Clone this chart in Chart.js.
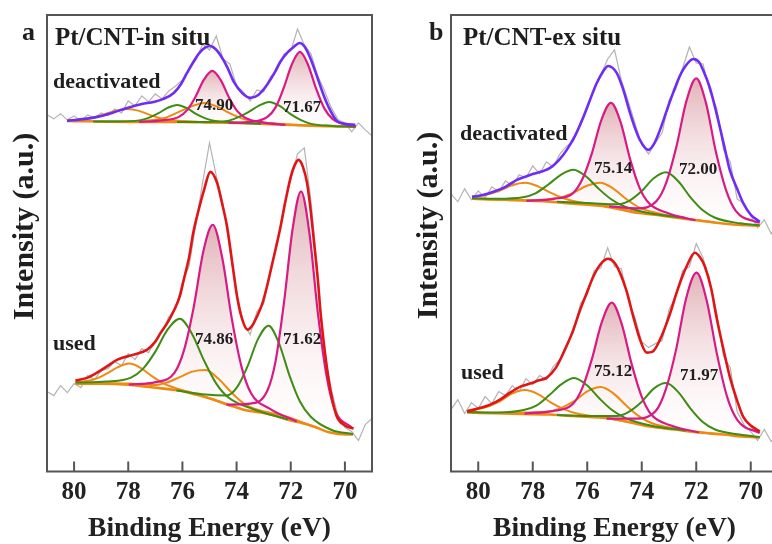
<!DOCTYPE html>
<html>
<head>
<meta charset="utf-8">
<script src="https://cdn.jsdelivr.net/npm/chart.js@4.4.1/dist/chart.umd.min.js"></script>
<style>
  html, body { margin: 0; padding: 0; background: #fff; overflow: hidden; }
  body { width: 772px; height: 544px; position: relative; }
  canvas { position: absolute; top: 0; }
  #panelA { left: 0; }
  #panelB { left: 386px; }
</style>
</head>
<body>
<canvas id="panelA" width="386" height="544"></canvas>
<canvas id="panelB" width="410" height="544"></canvas>
<script>
// ---- data (binding energy in eV, intensity in arbitrary units) ----
const TICKS_EV = [80, 78, 76, 74, 72, 70];
const RAW_EV = [81.0, 80.75, 80.5, 80.25, 80.0, 79.75, 79.5, 79.25, 79.0, 78.75, 78.5, 78.25, 78.0,
  77.75, 77.5, 77.25, 77.0, 76.75, 76.5, 76.25, 76.0, 75.75, 75.5, 75.25, 75.0, 74.75, 74.5, 74.25,
  74.0, 73.75, 73.5, 73.25, 73.0, 72.75, 72.5, 72.25, 72.0, 71.75, 71.5, 71.25, 71.0, 70.75, 70.5,
  70.25, 70.0, 69.75, 69.5, 69.25, 69.0];

const PANEL_LETTERS = ['a', 'b'];
const SAMPLE_TITLES = ['Pt/CNT-in situ', 'Pt/CNT-ex situ'];
const STATE_LABELS = ['deactivated', 'used'];
const A_PEAK_LABELS = ['74.90', '71.67', '74.86', '71.62'];
const B_PEAK_LABELS = ['75.14', '72.00', '75.12', '71.97'];
const X_TITLE = 'Binding Energy (eV)';
const Y_TITLE = 'Intensity (a.u.)';

// panel a, deactivated
const A_DE_RAW = [357, 353, 358, 352, 356, 351, 357, 354, 359, 356, 363, 359, 371, 366, 376, 370, 378,
  373, 381, 386, 392, 403, 412, 428, 422, 436, 413, 408, 386, 380, 371, 382, 380, 395, 402, 418, 421,
  443, 427, 418, 396, 381, 364, 352, 349, 340, 349, 342, 336];
const A_DE_FIT_EV = [80.26, 79.6, 79.15, 78.6, 78.04, 77.5, 77.06, 76.7, 76.32, 76.05, 75.83, 75.55,
  75.34, 75.15, 74.97, 74.78, 74.6, 74.35, 74.1, 73.8, 73.5, 73.2, 72.88, 72.6, 72.39, 72.1, 71.89,
  71.67, 71.48, 71.28, 71.05, 70.79, 70.55, 70.3, 70.0, 69.62];
const A_DE_FIT = [351, 353, 355, 359, 364, 368, 370, 373, 379, 388, 399, 412, 420, 424.5, 426, 423, 417,
  405, 390, 379, 374, 377, 387, 399, 410, 420, 425, 429, 425, 414, 397, 377, 362, 351, 348, 347];
const A_DE_BG_EV = [80.25, 78, 76, 75, 74, 73, 72, 71, 70, 69.6];
const A_DE_BG = [351, 350, 350, 349.5, 349, 348, 347, 346, 345.5, 345];
const A_DE_P1_EV = [77.6, 76.75, 76.13, 75.82, 75.52, 75.21, 74.9, 74.59, 74.29, 73.98, 73.67, 73.05, 72.2];
const A_DE_P1 = [350, 351.5, 355, 362, 375, 392, 401, 392, 375, 361, 354, 349.5, 347];
const A_DE_P2_EV = [74.3, 73.46, 72.86, 72.56, 72.26, 71.96, 71.66, 71.36, 71.06, 70.76, 70.46, 69.86, 69.6];
const A_DE_P2 = [349, 350, 355, 364.5, 384, 407.5, 420, 407, 383, 363.5, 353, 347, 346];
const A_DE_G1_EV = [79.3, 78.3, 77.6, 77.25, 76.9, 76.55, 76.2, 75.85, 75.5, 75.15, 74.8, 74.1, 73.1];
const A_DE_G1 = [350.5, 350.5, 351.5, 354, 358.5, 364, 367, 364, 358, 353.5, 351, 349.5, 348];
const A_DE_G2_EV = [76.2, 75.13, 74.35, 73.96, 73.58, 73.19, 72.8, 72.41, 72.02, 71.64, 71.25, 70.47, 69.6];
const A_DE_G2 = [350, 350, 351, 354.5, 359.5, 366, 370, 366, 358, 352, 348, 346, 345];
const A_DE_O1_EV = [80.25, 79.85, 79.4, 78.95, 78.5, 78.05, 77.6, 77.15, 76.7, 76.25, 75.35, 74.05];
const A_DE_O1 = [352, 352, 353.5, 357, 361, 363, 361, 356.5, 353, 351.5, 350, 349];
const A_DE_O2_EV = [79.2, 78.0, 77.05, 76.59, 76.13, 75.66, 75.2, 74.74, 74.27, 73.81, 73.35, 72.4, 71.2];
const A_DE_O2 = [350.5, 350.5, 352, 354.5, 360, 365.5, 369, 365.5, 359, 353.5, 350.5, 348, 346];

// panel a, used
const A_US_RAW = [80, 76, 86, 79, 88, 84, 96, 92, 101, 103, 110, 106, 118, 112, 123, 119, 131, 140, 155,
  163, 190, 206, 248, 290, 329, 296, 268, 222, 178, 149, 137, 160, 168, 201, 228, 266, 292, 318, 324,
  270, 196, 118, 82, 55, 44, 40, 31, 47, 53];
const A_US_FIT_EV = [79.95, 79.5, 79.15, 78.8, 78.4, 77.8, 77.3, 77.0, 76.8, 76.55, 76.3, 76.1, 75.95,
  75.75, 75.6, 75.4, 75.2, 74.97, 74.72, 74.55, 74.35, 74.15, 73.98, 73.8, 73.6, 73.4, 73.25, 73.05,
  72.88, 72.65, 72.4, 72.2, 72.0, 71.85, 71.71, 71.55, 71.4, 71.28, 71.15, 71.0, 70.9, 70.75, 70.6,
  70.45, 70.3, 70.0, 69.68];
const A_US_FIT = [91, 94, 99, 105, 112, 117, 122, 130, 139, 149, 162, 175, 192, 215, 239, 262, 282, 300,
  289, 270, 245, 207, 175, 153, 142, 147, 155, 168, 185, 212, 242, 270, 295, 307, 312, 305, 289, 265,
  232, 192, 159, 122, 92, 70, 55, 46, 43];
const A_US_BG_EV = [79.95, 79, 78, 77.35, 76.7, 76.1, 75.5, 74.86, 74.1, 73.6, 73.1, 72.6, 72.14, 71.65,
  71.15, 70.55, 69.94, 69.7];
const A_US_BG = [88, 88, 87, 85, 83, 81, 77, 72, 65, 61, 59, 56, 52, 49, 45, 39, 37, 37];
const A_US_P1_EV = [77.98, 76.98, 76.29, 75.94, 75.58, 75.23, 74.88, 74.53, 74.18, 73.82, 73.47, 72.78, 71.78];
const A_US_P1 = [87, 89.5, 99, 121.5, 165, 220, 247, 214, 153.5, 105, 78.5, 63, 50];
const A_US_P2_EV = [74.37, 73.5, 72.87, 72.56, 72.25, 71.93, 71.62, 71.31, 71.0, 70.68, 70.37, 69.75];
const A_US_P2 = [67, 68, 80.5, 110.5, 169, 243, 280.5, 238.5, 159, 96, 61.5, 44];
const A_US_G1_EV = [79.95, 78.8, 77.9, 77.45, 77.0, 76.55, 76.1, 75.65, 75.2, 74.75, 74.3, 73.4, 72.1];
const A_US_G1 = [89, 90, 94, 103, 120, 142, 153, 138, 111, 88, 74, 62.5, 52];
const A_US_G2_EV = [76.22, 75.15, 74.37, 73.98, 73.6, 73.21, 72.82, 72.43, 72.04, 71.66, 71.27, 70.49, 69.7];
const A_US_G2 = [81, 77, 76, 84.5, 105, 132.5, 146, 128, 95.5, 70, 55, 41.5, 37.5];
const A_US_O1_EV = [79.95, 79.65, 79.23, 78.8, 78.38, 77.95, 77.53, 77.1, 76.68, 76.25, 75.4, 74.15];
const A_US_O1 = [89.5, 90, 92.5, 98, 104.5, 108, 103.5, 95, 88, 83.5, 77, 65];
const A_US_O2_EV = [79.25, 78.0, 77.05, 76.58, 76.1, 75.63, 75.15, 74.68, 74.2, 73.73, 73.25, 72.3, 71.05];
const A_US_O2 = [88, 88, 86.5, 89, 94.5, 100, 101.5, 93, 79.5, 68, 62, 56, 44];

// panel b, deactivated
const B_DE_RAW = [278, 270, 283, 272, 281, 274, 285, 280, 291, 286, 297, 294, 306, 298, 310, 305, 318,
  326, 331, 350, 365, 384, 397, 413, 422, 392, 371, 349, 327, 318, 329, 339, 372, 383, 404, 425, 409,
  408, 380, 364, 322, 310, 273, 268, 256, 244, 252, 238, 248];
const B_DE_FIT_EV = [80.23, 79.8, 79.44, 79.0, 78.58, 77.97, 77.36, 77.0, 76.75, 76.45, 76.14, 75.9,
  75.65, 75.43, 75.23, 74.92, 74.7, 74.43, 74.25, 74.07, 73.76, 73.55, 73.33, 73.1, 72.85, 72.62,
  72.42, 72.11, 71.9, 71.75, 71.5, 71.26, 71.0, 70.77, 70.5, 70.28, 70.0, 69.67];
const B_DE_FIT = [275, 277, 280, 285, 292, 298, 304, 313, 322, 336, 355, 372, 389, 400, 406, 399, 384,
  359, 344, 332, 322, 328, 342, 360, 379, 395, 405, 413, 410, 402, 384, 359, 329, 302, 283, 269, 257, 250];
const B_DE_BG_EV = [80.23, 79, 77.36, 76.5, 75.53, 74.9, 74.19, 73.5, 72.72, 72, 71.26, 70.5, 69.67];
const B_DE_BG = [273, 272, 270, 268, 266, 263, 259, 257, 254, 251.5, 249, 247, 246];
const B_DE_P1_EV = [78.23, 77.23, 76.53, 76.18, 75.83, 75.48, 75.13, 74.78, 74.43, 74.08, 73.73, 73.03, 72.03];
const B_DE_P1 = [271, 273, 278.5, 292.5, 318.5, 352, 369, 350, 313, 284, 268.5, 258.5, 251.5];
const B_DE_P2_EV = [75.2, 74.18, 73.45, 73.09, 72.73, 72.36, 72.0, 71.64, 71.28, 70.91, 70.55, 69.82, 69.67];
const B_DE_P2 = [265.5, 263.5, 271, 290, 325, 371, 393.5, 368.5, 320, 282, 261, 250, 249];
const B_DE_G1_EV = [80.23, 79.31, 78.36, 77.9, 77.44, 76.97, 76.51, 76.05, 75.58, 75.12, 74.66, 73.71, 72.41];
const B_DE_G1 = [273.5, 273, 274.5, 278.5, 287, 297, 302, 295.5, 283, 272.5, 265.5, 258.5, 254];
const B_DE_G2_EV = [77.11, 75.81, 74.91, 74.46, 74.01, 73.56, 73.11, 72.66, 72.21, 71.76, 71.31, 70.41, 69.67];
const B_DE_G2 = [270, 268.5, 267.5, 271, 280.5, 293.5, 299.5, 290.5, 274.5, 261.5, 254, 248.5, 246.5];
const B_DE_O1_EV = [80.23, 79.71, 79.23, 78.76, 78.28, 77.81, 77.33, 76.86, 76.38, 75.43, 74.08];
const B_DE_O1 = [275, 277, 281, 286.5, 289, 285.5, 279, 273.5, 270, 266.5, 259];
const B_DE_O2_EV = [79.73, 78.38, 77.43, 76.96, 76.48, 76.01, 75.53, 75.06, 74.58, 74.11, 73.63, 72.68, 71.33];
const B_DE_O2 = [272.5, 271.5, 272.5, 274.5, 279.5, 286, 289, 283.5, 273, 264.5, 260, 254.5, 249.5];

// panel b, used
const B_US_RAW = [62, 72, 58, 69, 63, 75, 68, 80, 76, 86, 80, 93, 87, 96, 92, 105, 112, 128, 140, 168,
  177, 201, 204, 224, 205, 203, 172, 154, 130, 124, 128, 131, 162, 176, 201, 205, 228, 214, 189, 159,
  115, 104, 60, 47, 40, 31, 42, 30, 36];
const B_US_FIT_EV = [80.41, 80.0, 79.56, 79.2, 78.83, 78.45, 78.1, 77.8, 77.48, 77.15, 76.87, 76.55,
  76.26, 76.0, 75.78, 75.5, 75.23, 75.0, 74.8, 74.55, 74.31, 74.05, 73.82, 73.6, 73.33, 73.0, 72.72,
  72.5, 72.36, 72.05, 71.85, 71.68, 71.45, 71.26, 71.0, 70.77, 70.5, 70.28, 70.0, 69.67];
const B_US_FIT = [60, 63, 67, 72, 79, 85, 88, 91, 94, 104, 119, 139, 162, 180, 195, 208, 213, 209, 199,
  180, 155, 131, 119, 120, 132, 155, 179, 196, 205, 219, 214, 205, 183, 155, 122, 95, 71, 55, 46, 40];
const B_US_BG_EV = [80.41, 79, 77.36, 76.5, 75.16, 74.4, 73.7, 72.8, 71.87, 71, 70.3, 69.67];
const B_US_BG = [59, 58, 57, 55.5, 53, 49, 45, 42, 39, 37, 35, 34];
const B_US_P1_EV = [78.3, 77.28, 76.55, 76.19, 75.83, 75.46, 75.1, 74.74, 74.37, 74.01, 73.65, 72.92, 71.9];
const B_US_P1 = [58, 60.5, 67, 83, 112.5, 150, 169, 148, 107.5, 75.5, 57, 46, 39];
const B_US_P2_EV = [75.29, 74.24, 73.49, 73.12, 72.74, 72.37, 71.99, 71.62, 71.24, 70.87, 70.49, 69.67];
const B_US_P2 = [53, 53, 60.5, 82, 122, 173.5, 199, 171.5, 117.5, 75, 51.5, 38.5];
const B_US_G1_EV = [80.41, 79.28, 78.33, 77.87, 77.41, 76.94, 76.48, 76.02, 75.55, 75.09, 74.63, 73.68, 72.38];
const B_US_G1 = [59.5, 59, 61.5, 66, 76, 87.5, 93.5, 86.5, 73, 61.5, 54, 46, 41];
const B_US_G2_EV = [77.11, 75.81, 74.91, 74.46, 74.01, 73.56, 73.11, 72.66, 72.21, 71.76, 71.31, 70.41, 69.67];
const B_US_G2 = [56.5, 55.5, 55.5, 60, 69.5, 83, 88.5, 79.5, 63, 49.5, 42, 37, 34.5];
const B_US_O1_EV = [80.41, 79.71, 79.23, 78.76, 78.28, 77.81, 77.33, 76.86, 76.38, 75.43, 74.08];
const B_US_O1 = [61, 64.5, 70, 78, 81.5, 77.5, 69, 62.5, 58, 54, 47.5];
const B_US_O2_EV = [79.7, 78.35, 77.4, 76.93, 76.45, 75.98, 75.5, 75.03, 74.55, 74.08, 73.6, 72.65, 71.3];
const B_US_O2 = [58.5, 59, 60, 64, 71, 80.5, 84.5, 78, 65.5, 55, 48, 42.5, 37.5];

// ---- styling ----
const SERIF = "'Liberation Serif', 'Times New Roman', serif";
const C_RAW = '#b3b3b3';
const C_DEACT = '#6f2cf5';
const C_USED = '#e01616';
const C_PT0 = '#d81b84';
const C_PT2 = '#3d8c14';
const C_PT4 = '#ee8a12';

Chart.defaults.font.family = SERIF;

function pinkShade(context) {
  const chart = context.chart;
  if (!chart.chartArea) return 'rgba(210,140,150,0.3)';
  const ys = context.dataset.data.map(p => p.y);
  const y = chart.scales.y;
  const top = y.getPixelForValue(Math.max(...ys));
  const bot = y.getPixelForValue(Math.min(...ys));
  const g = chart.ctx.createLinearGradient(0, top, 0, bot);
  g.addColorStop(0, 'rgba(200,115,125,0.55)');
  g.addColorStop(1, 'rgba(255,240,242,0.1)');
  return g;
}

function line(xs, ys, color, width, extra) {
  return Object.assign({
    data: xs.map((x, i) => ({ x: x, y: ys[i] })),
    borderColor: color,
    borderWidth: width,
    pointRadius: 0,
    fill: false,
    cubicInterpolationMode: 'monotone'
  }, extra || {});
}

// one spectrum = fit envelope, 6 components, background, raw data
function spectrum(first, s) {
  const bgIndex = first + 7;
  const shade = { fill: bgIndex, backgroundColor: pinkShade };
  return [
    line(s.fitEv, s.fit, s.fitColor, 2.6),
    line(s.p1Ev, s.p1, C_PT0, 2.2, shade),
    line(s.p2Ev, s.p2, C_PT0, 2.2, shade),
    line(s.g1Ev, s.g1, C_PT2, 2),
    line(s.g2Ev, s.g2, C_PT2, 2),
    line(s.o1Ev, s.o1, C_PT4, 2),
    line(s.o2Ev, s.o2, C_PT4, 2),
    line(s.bgEv, s.bg, C_PT4, 2.6),
    line(RAW_EV, s.raw, C_RAW, 1.2, { cubicInterpolationMode: 'default', tension: 0 })
  ];
}

function decor(labels, yTitleX, yTitleY) {
  return {
    id: 'decor',
    afterDraw(chart) {
      const ctx = chart.ctx;
      const a = chart.chartArea;
      const x = chart.scales.x;
      ctx.save();
      ctx.strokeStyle = '#555';
      ctx.lineWidth = 2;
      ctx.strokeRect(a.left, a.top, a.right - a.left, a.bottom - a.top);
      ctx.beginPath();
      TICKS_EV.forEach(v => {
        const px = x.getPixelForValue(v);
        ctx.moveTo(px, a.bottom);
        ctx.lineTo(px, a.bottom - 10);
      });
      ctx.stroke();
      ctx.fillStyle = '#1e1e1e';
      ctx.textAlign = 'left';
      ctx.textBaseline = 'alphabetic';
      labels.forEach(t => {
        ctx.font = 'bold ' + t.size + 'px ' + SERIF;
        ctx.fillText(t.text, t.x, t.y);
      });
      ctx.translate(yTitleX, yTitleY);
      ctx.rotate(-Math.PI / 2);
      ctx.textAlign = 'center';
      ctx.font = 'bold 30px ' + SERIF;
      ctx.fillText(Y_TITLE, 0, 0);
      ctx.restore();
    }
  };
}

function makePanel(id, datasets, padLeft, padRight, labels, yTitleX, yTitleY) {
  return new Chart(document.getElementById(id), {
    type: 'line',
    data: { datasets: datasets },
    options: {
      responsive: false,
      animation: false,
      devicePixelRatio: 1,
      events: [],
      layout: { padding: { left: padLeft, right: padRight, top: 15, bottom: 0 } },
      plugins: {
        legend: { display: false },
        tooltip: { enabled: false },
        filler: { drawTime: 'beforeDatasetsDraw' }
      },
      scales: {
        x: {
          type: 'linear',
          min: 69,
          max: 81,
          reverse: true,
          grid: { display: false, drawTicks: false },
          border: { display: false },
          afterBuildTicks: s => { s.ticks = TICKS_EV.map(v => ({ value: v })); },
          ticks: {
            autoSkip: false,
            maxRotation: 0,
            padding: 9,
            color: '#222',
            font: { size: 25, weight: 'bold', lineHeight: 1 }
          },
          title: {
            display: true,
            text: X_TITLE,
            color: '#222',
            font: { size: 27.5, weight: 'bold', lineHeight: 1 },
            padding: { top: 1, bottom: 1 }
          }
        },
        y: { type: 'linear', min: 0, max: 457, display: false }
      }
    },
    plugins: [decor(labels, yTitleX, yTitleY)]
  });
}

const aDatasets = spectrum(0, {
  raw: A_DE_RAW, fitEv: A_DE_FIT_EV, fit: A_DE_FIT, fitColor: C_DEACT, bgEv: A_DE_BG_EV, bg: A_DE_BG,
  p1Ev: A_DE_P1_EV, p1: A_DE_P1, p2Ev: A_DE_P2_EV, p2: A_DE_P2, g1Ev: A_DE_G1_EV, g1: A_DE_G1,
  g2Ev: A_DE_G2_EV, g2: A_DE_G2, o1Ev: A_DE_O1_EV, o1: A_DE_O1, o2Ev: A_DE_O2_EV, o2: A_DE_O2
}).concat(spectrum(9, {
  raw: A_US_RAW, fitEv: A_US_FIT_EV, fit: A_US_FIT, fitColor: C_USED, bgEv: A_US_BG_EV, bg: A_US_BG,
  p1Ev: A_US_P1_EV, p1: A_US_P1, p2Ev: A_US_P2_EV, p2: A_US_P2, g1Ev: A_US_G1_EV, g1: A_US_G1,
  g2Ev: A_US_G2_EV, g2: A_US_G2, o1Ev: A_US_O1_EV, o1: A_US_O1, o2Ev: A_US_O2_EV, o2: A_US_O2
}));

const bDatasets = spectrum(0, {
  raw: B_DE_RAW, fitEv: B_DE_FIT_EV, fit: B_DE_FIT, fitColor: C_DEACT, bgEv: B_DE_BG_EV, bg: B_DE_BG,
  p1Ev: B_DE_P1_EV, p1: B_DE_P1, p2Ev: B_DE_P2_EV, p2: B_DE_P2, g1Ev: B_DE_G1_EV, g1: B_DE_G1,
  g2Ev: B_DE_G2_EV, g2: B_DE_G2, o1Ev: B_DE_O1_EV, o1: B_DE_O1, o2Ev: B_DE_O2_EV, o2: B_DE_O2
}).concat(spectrum(9, {
  raw: B_US_RAW, fitEv: B_US_FIT_EV, fit: B_US_FIT, fitColor: C_USED, bgEv: B_US_BG_EV, bg: B_US_BG,
  p1Ev: B_US_P1_EV, p1: B_US_P1, p2Ev: B_US_P2_EV, p2: B_US_P2, g1Ev: B_US_G1_EV, g1: B_US_G1,
  g2Ev: B_US_G2_EV, g2: B_US_G2, o1Ev: B_US_O1_EV, o1: B_US_O1, o2Ev: B_US_O2_EV, o2: B_US_O2
}));

makePanel('panelA', aDatasets, 47, 14, [
  { text: PANEL_LETTERS[0], x: 22, y: 40, size: 26 },
  { text: SAMPLE_TITLES[0], x: 55, y: 45, size: 25 },
  { text: STATE_LABELS[0], x: 53, y: 88, size: 22 },
  { text: STATE_LABELS[1], x: 53, y: 350, size: 22 },
  { text: A_PEAK_LABELS[0], x: 195, y: 110, size: 17 },
  { text: A_PEAK_LABELS[1], x: 283, y: 112, size: 17 },
  { text: A_PEAK_LABELS[2], x: 195, y: 344, size: 17 },
  { text: A_PEAK_LABELS[3], x: 283, y: 344, size: 17 }
], 33, 226.5);

makePanel('panelB', bDatasets, 65, 18, [
  { text: PANEL_LETTERS[1], x: 43, y: 40, size: 26 },
  { text: SAMPLE_TITLES[1], x: 77, y: 45, size: 25 },
  { text: STATE_LABELS[0], x: 74, y: 140, size: 22 },
  { text: STATE_LABELS[1], x: 75, y: 379, size: 22 },
  { text: B_PEAK_LABELS[0], x: 208, y: 173, size: 17 },
  { text: B_PEAK_LABELS[1], x: 293, y: 174, size: 17 },
  { text: B_PEAK_LABELS[2], x: 208, y: 376, size: 17 },
  { text: B_PEAK_LABELS[3], x: 294, y: 380, size: 17 }
], 51, 225.5);
</script>
</body>
</html>
